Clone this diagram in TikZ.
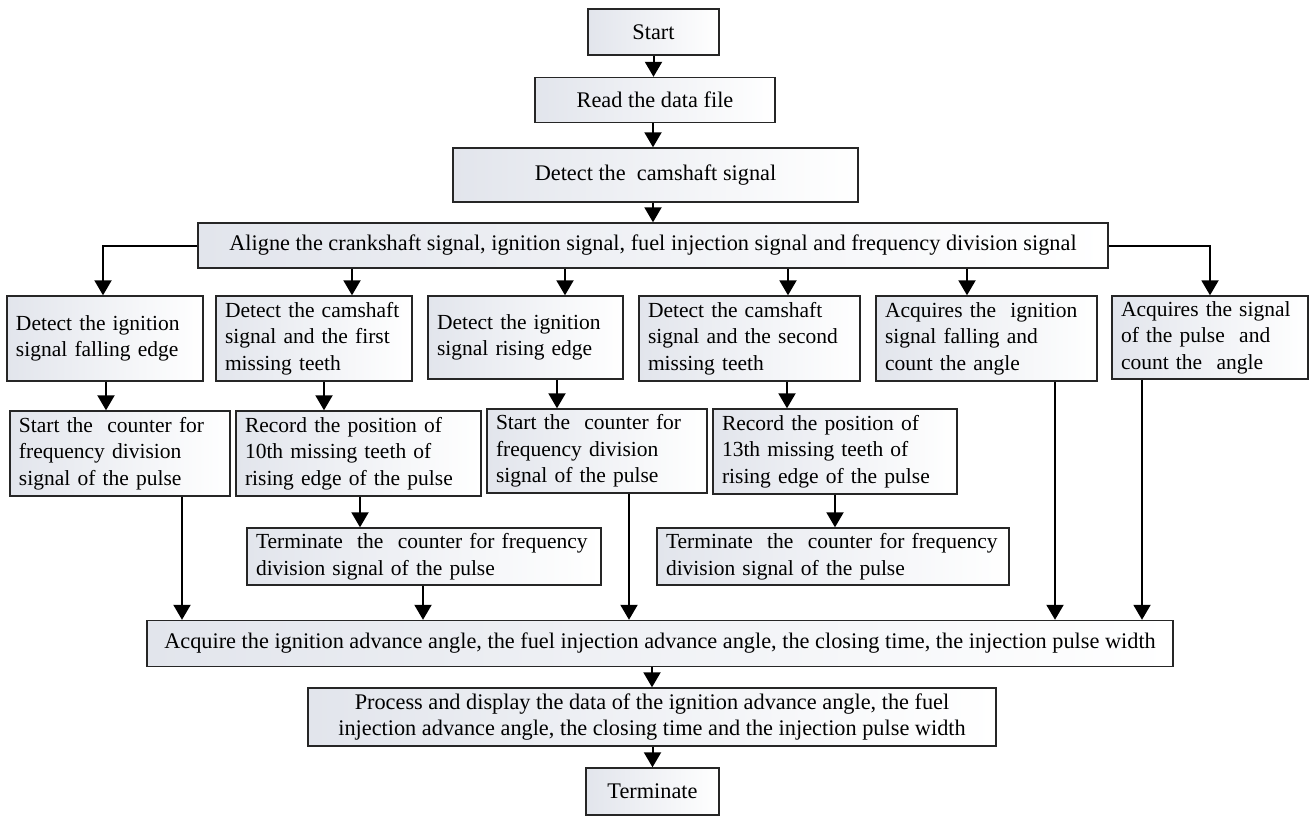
\documentclass[tikz,border=0pt]{standalone}
\usepackage{fontspec}
\setmainfont{Liberation Serif}
\usetikzlibrary{arrows.meta}
\definecolor{boxleft}{HTML}{E2E5EC}
\tikzset{
  box/.style={draw=black!85, line width=1.4pt, left color=boxleft, right color=white,
    inner xsep=9pt, inner ysep=2pt},
  lbox/.style={box, align=left, font=\fontsize{21.5}{26.5}\selectfont},
  cbox/.style={box, align=center, font=\fontsize{22.3}{26.5}\selectfont},
  arr/.style={line width=2pt, -{Triangle[width=17pt,length=15pt]}}
}
\begin{document}
\begin{tikzpicture}[x=1pt,y=-1pt]
\useasboundingbox (0,0) rectangle (1312,819);
% top chain
\node[cbox, minimum width=131pt, minimum height=46pt] (start) at (653.5,32) {Start};
\node[cbox, minimum width=240pt, minimum height=45pt] (read) at (655,100) {Read the data file};
\node[cbox, minimum width=405pt, minimum height=54pt] (detect) at (655.5,175) {Detect the\ \ camshaft signal};
\node[cbox, minimum width=910pt, minimum height=45pt] (aligne) at (653,245.5) {Aligne the crankshaft signal, ignition signal, fuel injection signal and frequency division signal};
% row 2
\node[lbox, text width=178pt, minimum height=85pt] (b1) at (105,338.5) {Detect the ignition\\signal falling edge};
\node[lbox, text width=178pt, minimum height=85pt] (b2) at (314,338.5) {Detect the camshaft\\signal and the first\\missing teeth};
\node[lbox, text width=177pt, minimum height=83pt] (b3) at (525.5,337.5) {Detect the ignition\\signal rising edge};
\node[lbox, text width=203pt, minimum height=85pt] (b4) at (749.5,338.5) {Detect the camshaft\\signal and the second\\missing teeth};
\node[lbox, text width=203pt, minimum height=85pt] (b5) at (986.5,338.5) {Acquires the\ \ ignition\\signal falling and\\count the angle};
\node[lbox, text width=178pt, minimum height=83pt] (b6) at (1210,337.5) {Acquires the signal\\of the pulse\ \ and\\count the\ \ angle};
% row 3
\node[lbox, text width=202pt, minimum height=85pt] (c1) at (120,453.5) {Start the\ \ counter for\\frequency division\\signal of the pulse};
\node[lbox, text width=227pt, minimum height=85pt] (c2) at (358.5,453.5) {Record the position of\\10th missing teeth of\\rising edge of the pulse};
\node[lbox, text width=202pt, minimum height=84pt] (c3) at (597,451) {Start the\ \ counter for\\frequency division\\signal of the pulse};
\node[lbox, text width=226pt, minimum height=85pt] (c4) at (835,451.5) {Record the position of\\13th missing teeth of\\rising edge of the pulse};
% row 4
\node[lbox, text width=336pt, minimum height=57pt] (d1) at (424,556.5) {Terminate\ \ the\ \ counter for frequency\\division signal of the pulse};
\node[lbox, text width=334pt, minimum height=57pt] (d2) at (833,556.5) {Terminate\ \ the\ \ counter for frequency\\division signal of the pulse};
% bottom chain
\node[cbox, minimum width=1026pt, minimum height=46pt] (acq) at (660,643.5) {Acquire the ignition advance angle, the fuel injection advance angle, the closing time, the injection pulse width};
\node[cbox, minimum width=688pt, minimum height=58pt] (proc) at (652,717) {Process and display the data of the ignition advance angle, the fuel\\injection advance angle, the closing time and the injection pulse width};
\node[cbox, minimum width=133pt, minimum height=47pt] (term) at (652.5,791.5) {Terminate};
% connectors, top chain
\draw[arr] (start.south) -- (start.south |- read.north);
\draw[arr] ([xshift=-2pt]read.south) -- ([xshift=-2pt]read.south |- detect.north);
\draw[arr] ([xshift=-2.5pt]detect.south) -- ([xshift=-2.5pt]detect.south |- aligne.north);
% aligne to row 2
\draw[arr] (aligne.west) -| ([xshift=-2pt]b1.north);
\draw[arr] (aligne.east) -| (b6.north);
\draw[arr] ([xshift=38pt]b2.north |- aligne.south) -- ([xshift=38pt]b2.north);
\draw[arr] ([xshift=39.5pt]b3.north |- aligne.south) -- ([xshift=39.5pt]b3.north);
\draw[arr] ([xshift=38.5pt]b4.north |- aligne.south) -- ([xshift=38.5pt]b4.north);
\draw[arr] ([xshift=-19.5pt]b5.north |- aligne.south) -- ([xshift=-19.5pt]b5.north);
% row 2 to row 3
\draw[arr] ([xshift=1pt]b1.south) -- ([xshift=1pt]b1.south |- c1.north);
\draw[arr] ([xshift=10pt]b2.south) -- ([xshift=10pt]b2.south |- c2.north);
\draw[arr] ([xshift=31.5pt]b3.south) -- ([xshift=31.5pt]b3.south |- c3.north);
\draw[arr] ([xshift=37.5pt]b4.south) -- ([xshift=37.5pt]b4.south |- c4.north);
% row 3 to row 4
\draw[arr] ([xshift=1.5pt]c2.south) -- ([xshift=1.5pt]c2.south |- d1.north);
\draw[arr] (c4.south) -- (c4.south |- d2.north);
% to acquire
\draw[arr] ([xshift=62pt]c1.south) -- ([xshift=62pt]c1.south |- acq.north);
\draw[arr] ([xshift=-1pt]d1.south) -- ([xshift=-1pt]d1.south |- acq.north);
\draw[arr] ([xshift=32pt]c3.south) -- ([xshift=32pt]c3.south |- acq.north);
\draw[arr] ([xshift=68.5pt]b5.south) -- ([xshift=68.5pt]b5.south |- acq.north);
\draw[arr] ([xshift=-68pt]b6.south) -- ([xshift=-68pt]b6.south |- acq.north);
% bottom chain
\draw[arr] (proc.north |- acq.south) -- (proc.north);
\draw[arr] (term.north |- proc.south) -- (term.north);
\end{tikzpicture}
\end{document}
